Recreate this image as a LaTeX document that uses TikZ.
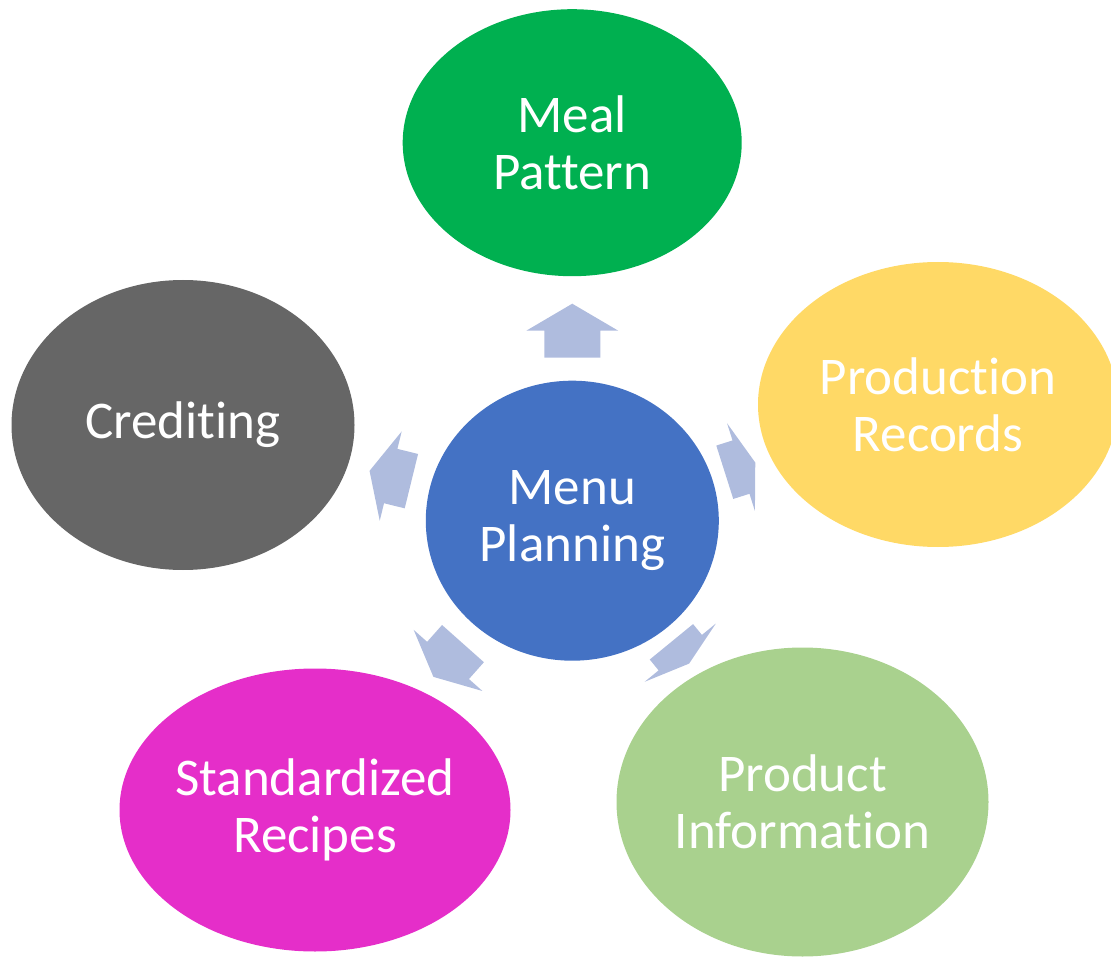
\documentclass[tikz,border=0pt]{standalone}
\usepackage{fontspec}
\setmainfont{Carlito}[Ligatures=NoCommon]
\usetikzlibrary{shapes.geometric,calc}

\definecolor{menublue}{HTML}{4472C4}
\definecolor{mealgreen}{HTML}{00B050}
\definecolor{recordyellow}{HTML}{FFD966}
\definecolor{productgreen}{HTML}{A9D18E}
\definecolor{recipepink}{HTML}{E52EC9}
\definecolor{creditgray}{HTML}{666666}
\definecolor{spokeblue}{HTML}{AFBCDE}

% block arrow from #1 towards #2: tail, neck and tip distances
\newcommand{\spoke}[5]{%
	\fill[spoke]
		($(#1)!#3!(#2)!28pt!90:(#2)$) -- ($(#1)!#4!(#2)!28pt!90:(#2)$) --
		($(#1)!#4!(#2)!46pt!90:(#2)$) -- ($(#1)!#5!(#2)$) --
		($(#1)!#4!(#2)!46pt!-90:(#2)$) -- ($(#1)!#4!(#2)!28pt!-90:(#2)$) --
		($(#1)!#3!(#2)!28pt!-90:(#2)$) -- cycle;}

\begin{document}
\begin{tikzpicture}[x=1pt,y=-1pt,
	bubble/.style={shape=ellipse,inner sep=0pt,text=white,align=center,
		font=\fontsize{53}{57}\selectfont},
	spoke/.style={fill=spokeblue}]
	\useasboundingbox (0,0) rectangle (1111,957);

	\node[bubble,fill=menublue,minimum width=293pt,minimum height=280pt] (menu) at (572.3,520.7) {Menu\\Planning};
	\node[bubble,fill=mealgreen,minimum width=339pt,minimum height=267pt] (meal) at (572.2,142.7) {Meal\\Pattern};
	\node[bubble,fill=recordyellow,minimum width=360pt,minimum height=285pt] (records) at (938,404.5) {Production\\Records};
	\node[bubble,fill=productgreen,minimum width=372pt,minimum height=309pt] (product) at (802.5,802) {Product\\Information};
	\node[bubble,fill=recipepink,minimum width=391pt,minimum height=283pt,inner xsep=-3pt] (recipes) at (315,810) {Standardized\\Recipes};
	\node[bubble,fill=creditgray,minimum width=343pt,minimum height=290pt] (credit) at (183,425) {Crediting};

	\spoke{menu.center}{meal.center}{163pt}{190pt}{217pt}
	\spoke{menu.center}{records.center}{160pt}{177pt}{192pt}
	\spoke{menu.center}{product.center}{156.5pt}{170.5pt}{184.6pt}
	\spoke{menu.center}{recipes.center}{164.5pt}{187pt}{209pt}
	\spoke{menu.center}{credit.center}{165.7pt}{187pt}{208.8pt}
\end{tikzpicture}
\end{document}
